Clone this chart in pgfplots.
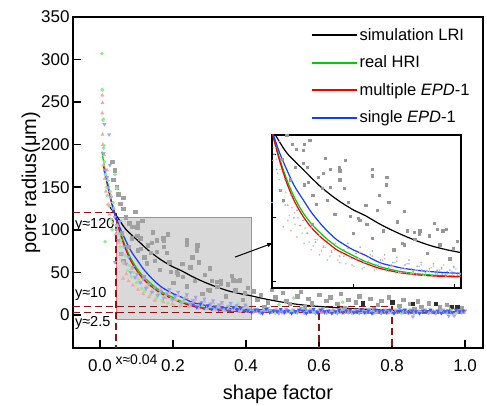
\documentclass[border=0pt]{standalone}
\usepackage{fontspec}
\setmainfont{Liberation Sans}
\usepackage{pgfplots}
\usepackage{pgfplotstable}
\pgfplotsset{compat=1.18}
\definecolor{cgreen}{RGB}{0,204,0}
\definecolor{cred}{RGB}{240,0,0}
\definecolor{cblue}{RGB}{20,60,255}
\definecolor{dred}{RGB}{140,20,20}
\definecolor{rectred}{RGB}{240,110,110}
\definecolor{sqgray}{RGB}{160,160,160}
\definecolor{sqgrayin}{RGB}{150,150,150}
\definecolor{sqdark}{RGB}{45,45,45}
\definecolor{pgreen}{RGB}{150,232,150}
\definecolor{pred}{RGB}{250,165,165}
\definecolor{pblue}{RGB}{150,165,250}
\definecolor{bandblue}{RGB}{60,90,255}

% ---------- curves ----------
\pgfplotstableread{
x y
0.022 130
0.030 125
0.046 116
0.070 101
0.102 88
0.135 75
0.168 64.5
0.200 56.4
0.223 52
0.256 44.4
0.289 38
0.321 32.6
0.354 28
0.386 24.8
0.412 22.7
0.450 19
0.500 15
0.550 12
0.600 10
0.650 8.5
0.700 7.3
0.750 6.4
0.800 5.7
0.850 5.1
0.900 4.7
0.950 4.3
1.000 4
}\blackcurve
\pgfplotstableread{
x y
0.005 192
0.015 168
0.028 140
0.041 118
0.055 98
0.070 80
0.085 66
0.102 54
0.118 45.5
0.135 38.5
0.150 33
0.168 27.5
0.185 23.5
0.200 20.5
0.220 16.5
0.240 13.5
0.256 11.3
0.289 8.3
0.321 6.4
0.354 5.2
0.386 4.5
0.412 4.2
0.500 3.4
0.600 3
0.700 2.8
0.800 2.7
0.900 2.6
1.000 2.6
}\greencurve
\pgfplotstableread{
x y
0.009 176
0.020 153
0.030 134
0.041 117
0.055 96
0.070 77.4
0.085 63
0.102 51.2
0.118 42.5
0.135 35.5
0.150 30.5
0.168 25
0.185 21.5
0.200 18.5
0.220 15
0.240 12
0.256 10
0.289 7.2
0.321 5.5
0.354 4.5
0.386 4
0.412 3.7
0.500 3
0.600 2.6
0.700 2.4
0.800 2.3
0.900 2.2
1.000 2.2
}\redcurve
\pgfplotstableread{
x y
0.011 170
0.020 155
0.030 136
0.041 119
0.055 102
0.070 87.8
0.085 75
0.102 64.3
0.118 54.5
0.135 46
0.150 39.5
0.168 32.9
0.185 28.5
0.200 25
0.223 20.9
0.240 17.3
0.256 14.4
0.289 11.2
0.321 9.1
0.354 7.8
0.386 7
0.412 6.5
0.500 5.3
0.600 4.6
0.700 4.2
0.800 4
0.900 3.8
1.000 3.7
}\bluecurve

% ---------- scatter data ----------
\pgfplotstableread{
x y
0.033 180
0.041 170
0.036 159
0.045 150
0.050 142
0.063 138
0.055 131
0.063 125
0.096 121
0.070 115
0.115 111
0.104 108
0.080 108
0.088 104
0.102 103
0.145 97
0.060 96
0.185 95
0.102 93
0.110 90
0.086 90
0.173 90
0.238 88
0.155 88
0.174 87
0.142 85
0.237 83
0.131 82
0.266 82
0.174 80
0.077 80
0.112 78
0.265 76
0.104 76
0.156 74
0.183 73
0.139 73
0.057 72
0.252 68
0.121 68
0.063 64
0.150 64
0.190 62
0.270 62
0.128 61
0.225 60
0.247 56
0.300 55
0.164 53
0.194 51
0.210 50
0.213 48
0.286 47
0.360 46
0.227 45
0.120 45
0.365 41
0.383 41
0.306 40
0.331 40
0.376 40
0.260 40
0.320 39
0.200 38
0.330 37
0.350 36
0.237 34
0.321 33
0.405 32
0.296 30
0.300 29
0.370 29
0.396 26
0.280 25
0.345 22
0.390 18
0.420 28
0.430 18
0.440 24
0.450 10
0.460 15
0.470 30
0.480 21
0.500 26
0.510 17
0.520 13
0.540 22
0.550 27
0.560 9
0.570 19
0.580 14
0.600 24
0.620 17
0.630 21
0.650 13
0.660 25
0.670 8
0.680 18
0.700 15
0.710 22
0.720 14
0.740 19
0.750 7
0.760 12
0.770 17
0.790 21
0.800 15
0.820 11
0.830 18
0.850 13
0.860 7
0.870 16
0.880 10
0.900 14
0.920 13
0.930 9
0.950 12
0.960 9
0.980 9
0.990 8
}\graydata
\pgfplotstableread{
x y
0.720 14
0.800 15
0.857 13
0.920 13
0.964 10
0.978 10
}\darkdata
\pgfplotstableread{
x y
0.005 307
0.006 265
0.007 264
0.008 229
0.009 230
0.010 196
0.011 199
0.012 180
0.014 86
0.015 165
0.018 150
0.020 140
0.022 158
0.025 128
0.028 145
0.030 112
0.033 100
0.036 132
0.041 165
0.044 105
0.046 149
0.050 96
0.055 80
0.057 88
0.063 62
0.068 70
0.075 52
0.080 58
0.086 45
0.092 50
0.100 38
0.106 42
0.114 31
0.122 28
0.130 33
0.138 24
0.146 27
0.155 20
0.163 25
0.170 17
0.178 22
0.186 14
0.194 19
0.202 12
0.210 18
0.218 10
0.226 15
0.234 21
0.242 9
0.250 13
0.258 17
0.266 8
0.274 12
0.282 15
0.290 7
0.298 11
0.306 14
0.314 6
0.322 9
0.330 12
0.338 5
0.346 8
0.354 11
0.362 6
0.370 9
0.378 13
0.386 5
0.394 8
0.402 10
0.410 6
0.420 5
0.435 3
0.450 7
0.465 4
0.480 2
0.490 12
0.495 6
0.510 3
0.525 5
0.530 20
0.540 2
0.555 7
0.570 4
0.585 3
0.600 6
0.615 2
0.630 5
0.645 3
0.660 7
0.665 15
0.675 4
0.690 2
0.705 5
0.720 3
0.735 6
0.750 2
0.765 4
0.780 5
0.795 3
0.810 6
0.825 2
0.840 4
0.855 5
0.870 3
0.885 6
0.900 2
0.915 4
0.930 5
0.945 3
0.960 6
0.975 2
0.990 4
}\greendata
\pgfplotstableread{
x y
0.006 258
0.007 249
0.006 237
0.007 212
0.008 200
0.009 176
0.011 188
0.013 160
0.016 145
0.019 170
0.022 130
0.026 118
0.030 140
0.034 108
0.038 125
0.043 95
0.048 105
0.052 85
0.058 72
0.063 43
0.067 60
0.072 48
0.078 40
0.085 54
0.090 35
0.097 44
0.104 30
0.111 38
0.118 25
0.126 33
0.134 21
0.142 28
0.150 17
0.158 24
0.166 30
0.174 15
0.182 20
0.190 26
0.198 13
0.206 18
0.214 23
0.222 11
0.230 16
0.238 20
0.246 10
0.254 14
0.262 18
0.270 8
0.278 12
0.286 16
0.294 7
0.302 10
0.310 14
0.318 6
0.326 9
0.334 13
0.342 5
0.350 8
0.358 12
0.366 6
0.374 10
0.382 4
0.390 7
0.398 11
0.406 5
0.425 4
0.440 2
0.455 5
0.470 3
0.485 6
0.500 2
0.515 4
0.530 3
0.545 5
0.560 2
0.575 6
0.590 3
0.605 4
0.620 2
0.635 5
0.650 3
0.665 2
0.680 5
0.695 3
0.710 6
0.725 2
0.740 4
0.755 3
0.770 5
0.785 2
0.800 4
0.815 3
0.830 5
0.845 2
0.860 4
0.875 3
0.890 5
0.905 2
0.920 4
0.935 3
0.950 5
0.965 2
0.980 4
0.995 3
}\reddata
\pgfplotstableread{
x y
0.012 224
0.025 212
0.010 190
0.027 176
0.015 170
0.020 162
0.023 150
0.030 138
0.035 125
0.040 115
0.041 62
0.045 100
0.050 88
0.055 110
0.060 72
0.066 80
0.072 60
0.078 68
0.084 50
0.090 56
0.096 44
0.102 48
0.110 38
0.118 42
0.126 31
0.134 36
0.142 27
0.150 32
0.158 23
0.166 28
0.174 20
0.182 25
0.190 30
0.198 18
0.206 22
0.214 27
0.222 15
0.230 19
0.238 24
0.246 13
0.254 17
0.262 21
0.270 11
0.278 15
0.286 19
0.294 10
0.302 13
0.310 17
0.318 8
0.326 12
0.334 15
0.342 7
0.350 10
0.358 14
0.366 8
0.374 11
0.382 6
0.390 9
0.398 12
0.406 7
0.410 6
0.420 4
0.430 7
0.440 3
0.450 5
0.460 8
0.470 4
0.480 6
0.490 2
0.500 5
0.510 7
0.520 3
0.530 6
0.540 4
0.550 8
0.560 3
0.570 5
0.580 6
0.590 2
0.600 5
0.610 7
0.620 3
0.630 4
0.640 6
0.650 2
0.660 5
0.670 7
0.680 3
0.690 4
0.700 6
0.710 2
0.720 5
0.730 4
0.740 7
0.750 3
0.760 5
0.770 2
0.780 6
0.790 4
0.800 3
0.810 5
0.820 7
0.830 3
0.840 4
0.850 6
0.857 -2
0.860 2
0.870 5
0.880 4
0.890 6
0.900 3
0.910 5
0.920 2
0.930 4
0.940 6
0.950 3
0.955 -1
0.960 5
0.970 -1
0.980 4
0.990 3
1.000 5
}\bluedata
\pgfplotstableread{
x y
0.255 12
0.265 9
0.275 13
0.285 8
0.295 11
0.305 7
0.315 10
0.325 6
0.335 9
0.345 8
0.355 5
0.365 9
0.375 6
0.385 8
0.395 5
0.405 5
0.415 3
0.425 6
0.435 5
0.445 2
0.455 7
0.465 3
0.475 5
0.485 4
0.495 7
0.505 3
0.515 5
0.525 2
0.535 4
0.545 6
0.555 5
0.565 2
0.575 4
0.585 7
0.595 3
0.605 6
0.615 4
0.625 5
0.635 2
0.645 4
0.655 6
0.665 3
0.675 5
0.685 6
0.695 3
0.705 4
0.715 6
0.725 3
0.735 5
0.745 2
0.755 6
0.765 4
0.775 5
0.785 3
0.795 6
0.805 2
0.815 4
0.825 5
0.835 6
0.845 3
0.855 5
0.865 4
0.875 2
0.885 5
0.895 4
0.905 6
0.915 3
0.925 5
0.935 2
0.945 4
0.955 5
0.965 3
0.975 6
0.985 4
0.995 5
}\bluedatab

\begin{document}
\begin{tikzpicture}
\begin{axis}[
  name=main,
  scale only axis, width=410pt, height=331pt,
  xmin=-0.074, xmax=1.049, ymin=-38.8, ymax=350,
  xtick={0,0.2,0.4,0.6,0.8,1.0},
  ytick={0,50,100,150,200,250,300,350},
  xticklabel style={/pgf/number format/.cd, fixed, fixed zerofill, precision=1},
  /pgf/number format/assume math mode=true,
  tick label style={font=\fontsize{17}{17}\selectfont},
  xticklabel shift=8pt,
  tick align=inside, xtick pos=bottom, ytick pos=left,
  major tick length=8pt,
  every tick/.style={line width=1.6pt, black},
  axis line style={line width=1.8pt},
  xlabel={shape factor}, ylabel={pore radius(μm)},
  label style={font=\fontsize{20}{20}\selectfont},
  xlabel style={yshift=-7pt},
  ylabel style={yshift=-6pt},
  clip=false,
  legend style={draw=none, fill=none, at={(rel axis cs:0.975,0.975)}, anchor=north east,
    font=\fontsize{16.5}{16.5}\selectfont, row sep=10pt, inner sep=1pt},
  legend cell align=left,
  legend image code/.code={\draw[line width=2pt, #1] (0pt,0pt) -- (45pt,0pt);},
]
% legend
\addlegendimage{black}
\addlegendentry{simulation LRI}
\addlegendimage{cgreen}
\addlegendentry{real HRI}
\addlegendimage{cred}
\addlegendentry{multiple \textit{EPD}-1}
\addlegendimage{cblue}
\addlegendentry{single \textit{EPD}-1}
% zoom rectangle
\draw[draw=rectred, line width=0.8pt, fill=gray!30] (axis cs:0.044,-5) rectangle (axis cs:0.414,115);
% scatter
\addplot[only marks, mark=square*, mark size=1.7pt, sqgray, forget plot] table[x=x,y=y] {\graydata};
\addplot[only marks, mark=square*, mark size=1.7pt, sqdark, forget plot] table[x=x,y=y] {\darkdata};
\addplot[only marks, mark=*, mark size=1.6pt, pgreen, forget plot] table[x=x,y=y] {\greendata};
\addplot[only marks, mark=triangle*, mark size=1.9pt, pred, forget plot] table[x=x,y=y] {\reddata};
\addplot[only marks, mark=triangle*, mark size=1.9pt, mark options={rotate=180}, pblue, forget plot] table[x=x,y=y] {\bluedata};
\addplot[only marks, mark=triangle*, mark size=1.9pt, mark options={rotate=180}, bandblue, forget plot] table[x=x,y=y] {\bluedatab};
% dashed guide lines
\draw[dred, line width=1.3pt, dash pattern=on 7pt off 4pt] (axis cs:-0.074,120) -- (axis cs:0.044,120);
\draw[dred, line width=1.3pt, dash pattern=on 7pt off 4pt] (axis cs:0.044,120) -- (axis cs:0.044,-38.8);
\draw[dred, line width=1.3pt, dash pattern=on 7pt off 4pt] (axis cs:-0.074,10) -- (axis cs:0.8,10);
\draw[dred, line width=1.3pt, dash pattern=on 7pt off 4pt] (axis cs:-0.074,2.5) -- (axis cs:0.6,2.5);
\draw[dred, line width=1.3pt, dash pattern=on 7pt off 4pt] (axis cs:0.6,2.5) -- (axis cs:0.6,-38.8);
\draw[dred, line width=1.3pt, dash pattern=on 7pt off 4pt] (axis cs:0.8,10) -- (axis cs:0.8,-38.8);
% curves
\addplot[black, line width=1.2pt, smooth, forget plot] table[x=x,y=y] {\blackcurve};
\addplot[cgreen, line width=1.2pt, smooth, forget plot] table[x=x,y=y] {\greencurve};
\addplot[cred, line width=1.2pt, smooth, forget plot] table[x=x,y=y] {\redcurve};
\addplot[cblue, line width=1.2pt, smooth, forget plot] table[x=x,y=y] {\bluecurve};
% annotations
\node[anchor=west, inner sep=0pt, font=\fontsize{14.5}{14.5}\selectfont] at (axis cs:-0.069,106) {y≈120};
\node[anchor=west, inner sep=0pt, font=\fontsize{14.5}{14.5}\selectfont] at (axis cs:-0.069,24.5) {y≈10};
\node[anchor=west, inner sep=0pt, font=\fontsize{14.5}{14.5}\selectfont] at (axis cs:-0.069,-9.5) {y≈2.5};
\node[anchor=west, inner sep=0pt, font=\fontsize{14}{14}\selectfont] at (axis cs:0.042,-53) {x≈0.04};
\draw[-latex, line width=1pt] (axis cs:0.37,68) -- (axis cs:0.474,84.5);
\end{axis}

\begin{axis}[
  at={(199pt,60pt)}, anchor=south west,
  scale only axis, width=189pt, height=153pt,
  xmin=0.041, xmax=0.412, ymin=-5, ymax=115,
  xtick={0.2,0.4}, ytick={0,50,100},
  xticklabels={}, yticklabels={},
  tick align=inside, xtick pos=bottom, ytick pos=left,
  major tick length=4pt,
  every tick/.style={line width=1pt, black},
  axis line style={line width=1.2pt},
  axis background/.style={fill=white},
]
\addplot[only marks, mark=square*, mark size=1.1pt, sqgrayin] table[x=x,y=y] {\graydata};
\addplot[only marks, mark=*, mark size=0.6pt, pgreen] table[x=x,y=y] {\greendata};
\addplot[only marks, mark=*, mark size=0.6pt, pred] table[x=x,y=y] {\reddata};
\addplot[only marks, mark=*, mark size=0.6pt, pblue] table[x=x,y=y] {\bluedata};
\addplot[only marks, mark=*, mark size=0.6pt, pblue] table[x=x,y=y] {\bluedatab};
\addplot[black, line width=1.2pt, smooth] table[x=x,y=y] {\blackcurve};
\addplot[cgreen, line width=1.2pt, smooth] table[x=x,y=y] {\greencurve};
\addplot[cred, line width=1.2pt, smooth] table[x=x,y=y] {\redcurve};
\addplot[cblue, line width=1.2pt, smooth] table[x=x,y=y] {\bluecurve};
\end{axis}
\pgfresetboundingbox
\path (-73pt,-58pt) rectangle (414pt,348pt);
\end{tikzpicture}
\end{document}
